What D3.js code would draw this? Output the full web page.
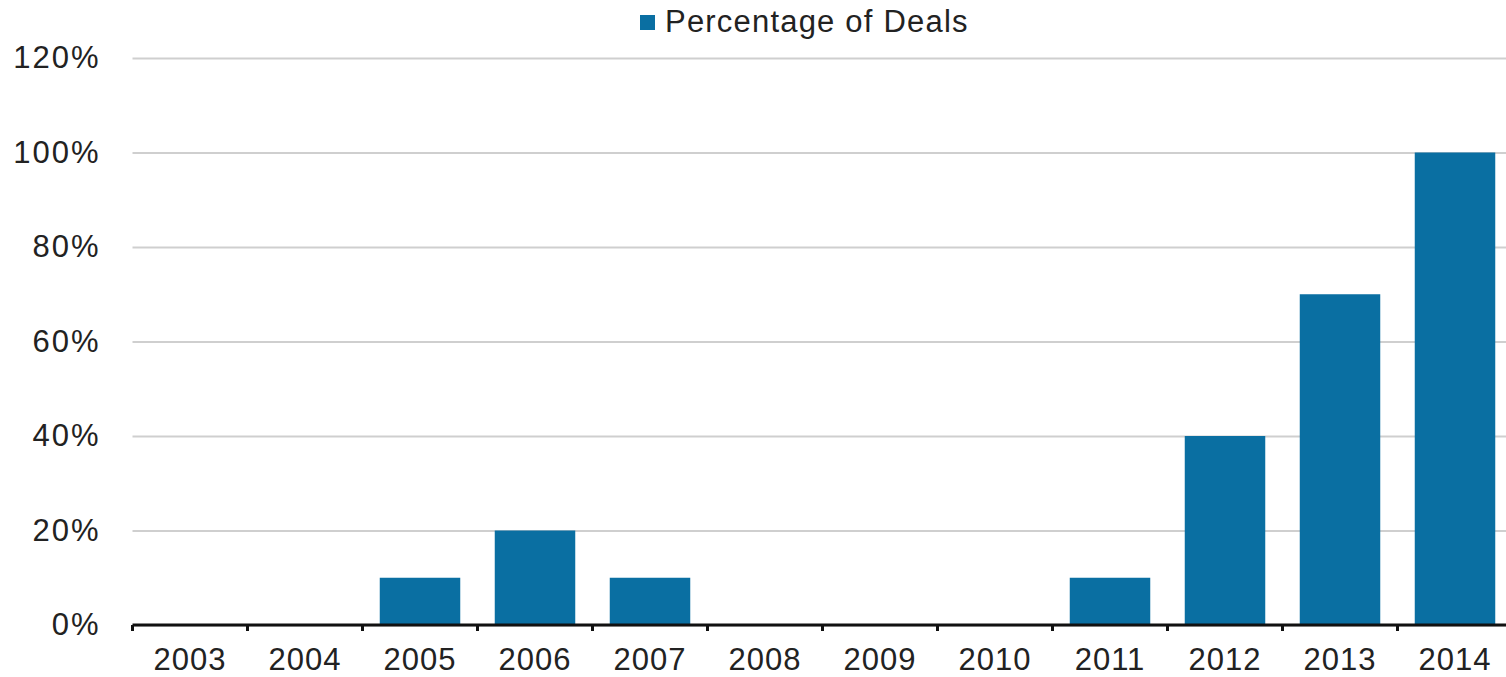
<!DOCTYPE html>
<html>
<head>
<meta charset="utf-8">
<script src="https://cdn.jsdelivr.net/npm/d3@7/dist/d3.min.js"></script>
<style>
  html, body { margin: 0; padding: 0; background: #fff; }
  svg { display: block; font-family: "Liberation Sans", Arial, sans-serif; }
</style>
</head>
<body>
<svg id="chart" width="1506" height="677"></svg>
<script>
const years = ["2003","2004","2005","2006","2007","2008","2009","2010","2011","2012","2013","2014"];
const percentageOfDeals = [0, 0, 0.10, 0.20, 0.10, 0, 0, 0, 0.10, 0.40, 0.70, 1.00];
const yTicks = [0, 0.2, 0.4, 0.6, 0.8, 1.0, 1.2];
const seriesName = "Percentage of Deals";

(function () {
const W = 1506, H = 677;
const plotLeft = 132.5, plotRight = 1512.5, plotTop = 58, plotBottom = 625;
const barColor = "#0a6fa2";

const svg = d3.select("#chart");

const x = d3.scaleBand().domain(years).range([plotLeft, plotRight]).paddingInner(0.3).paddingOuter(0.15);
const y = d3.scaleLinear().domain([0, 1.2]).range([plotBottom, plotTop]);

// grid + y labels
const yAxis = d3.axisLeft(y).tickValues(yTicks).tickFormat(d3.format(".0%"))
  .tickSize(-(W - plotLeft)).tickPadding(32);
const gy = svg.append("g").attr("transform", `translate(${plotLeft},0)`).call(yAxis);
gy.select(".domain").remove();
gy.selectAll(".tick line").attr("stroke", "#cfcfcf").attr("stroke-width", 2);
gy.selectAll(".tick text").attr("font-size", 31).attr("fill", "#222")
  .attr("letter-spacing", 2)
  .attr("font-family", "Liberation Sans, Arial, sans-serif");

// bars
svg.append("g").selectAll("rect").data(years.map((yr, i) => ({yr, v: percentageOfDeals[i]})))
  .join("rect")
  .attr("x", d => x(d.yr))
  .attr("width", x.bandwidth())
  .attr("y", d => y(d.v))
  .attr("height", d => y(0) - y(d.v))
  .attr("fill", barColor);

// x axis
const xAxis = d3.axisBottom(x).tickSize(0).tickPadding(0);
const gx = svg.append("g").attr("transform", `translate(0,${plotBottom})`).call(xAxis);
gx.select(".domain").remove();
gx.selectAll(".tick text").attr("font-size", 31).attr("fill", "#222")
  .attr("dy", null).attr("y", 45).attr("letter-spacing", 1)
  .attr("font-family", "Liberation Sans, Arial, sans-serif");
gx.append("line").attr("x1", plotLeft).attr("x2", W).attr("y1", 0).attr("y2", 0)
  .attr("stroke", "#111").attr("stroke-width", 3);
const step = x.step();
gx.selectAll(".bound").data(years).join("line").attr("class", "bound")
  .attr("x1", (d, i) => plotLeft + i * step).attr("x2", (d, i) => plotLeft + i * step)
  .attr("y1", 0).attr("y2", 6).attr("stroke", "#111").attr("stroke-width", 3);

// legend
const lg = svg.append("g").attr("transform", "translate(640,15)");
lg.append("rect").attr("width", 15).attr("height", 15).attr("fill", barColor);
lg.append("text").attr("x", 25).attr("y", 17).attr("font-size", 31).attr("fill", "#222")
  .attr("letter-spacing", 1.2)
  .text(seriesName);
})();
</script>
</body>
</html>
